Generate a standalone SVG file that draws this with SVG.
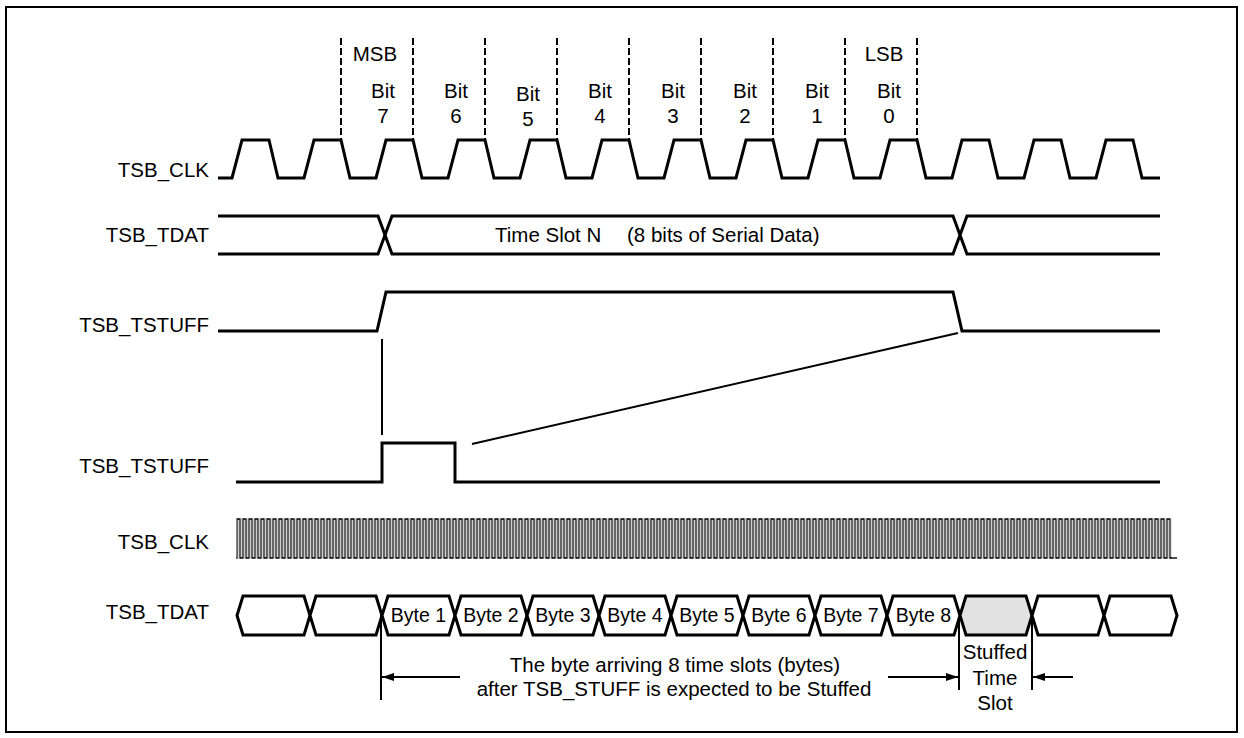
<svg xmlns="http://www.w3.org/2000/svg" width="1244" height="738" viewBox="0 0 1244 738">
<defs>
<style>
text{font-family:"Liberation Sans",Arial,sans-serif;font-size:20.5px;fill:#000}
.lbl{text-anchor:end}
.c{text-anchor:middle}
.bt{text-anchor:middle;font-size:19.5px}
.w{fill:none;stroke:#000;stroke-width:3;stroke-linejoin:miter}
.dash{stroke:#000;stroke-width:2;stroke-dasharray:7,3}
.thin{fill:none;stroke:#000;stroke-width:2}
.slot{fill:#fff;stroke:#000;stroke-width:3;stroke-linejoin:miter}
</style>
<marker id="ah" viewBox="0 0 12 8" refX="12" refY="4" markerWidth="12" markerHeight="8" markerUnits="userSpaceOnUse" orient="auto">
<path d="M0,0 L12,4 L0,8 Z" fill="#000"/>
</marker>
<pattern id="fastclk" patternUnits="userSpaceOnUse" x="235.5" y="518" width="6" height="42">
<path d="M0,40 H1.5 V1 H4.5 V40 H6" fill="none" stroke="#000" stroke-width="1.4"/>
</pattern>
</defs>
<rect x="0" y="0" width="1244" height="738" fill="#fff"/>
<rect id="border" x="6" y="7" width="1231" height="725" fill="none" stroke="#000" stroke-width="2"/>

<g id="labels">
<text class="lbl" x="209" y="177">TSB_CLK</text>
<text class="lbl" x="209" y="242">TSB_TDAT</text>
<text class="lbl" x="209" y="332">TSB_TSTUFF</text>
<text class="lbl" x="209" y="473">TSB_TSTUFF</text>
<text class="lbl" x="209" y="549">TSB_CLK</text>
<text class="lbl" x="209" y="619">TSB_TDAT</text>
</g>

<g id="bit-markers">
<line class="dash" x1="341" y1="38" x2="341" y2="140"/>
<line class="dash" x1="413" y1="38" x2="413" y2="140"/>
<line class="dash" x1="485" y1="38" x2="485" y2="140"/>
<line class="dash" x1="557" y1="38" x2="557" y2="140"/>
<line class="dash" x1="629" y1="38" x2="629" y2="140"/>
<line class="dash" x1="701" y1="38" x2="701" y2="140"/>
<line class="dash" x1="773" y1="38" x2="773" y2="140"/>
<line class="dash" x1="845" y1="38" x2="845" y2="140"/>
<line class="dash" x1="917" y1="38" x2="917" y2="140"/>
<text class="c" x="375" y="61">MSB</text>
<text class="c" x="884" y="61">LSB</text>
<text class="c" x="383" y="98">Bit</text><text class="c" x="383" y="123">7</text>
<text class="c" x="456" y="98">Bit</text><text class="c" x="456" y="123">6</text>
<text class="c" x="528" y="101">Bit</text><text class="c" x="528" y="126">5</text>
<text class="c" x="600" y="98">Bit</text><text class="c" x="600" y="123">4</text>
<text class="c" x="673" y="98">Bit</text><text class="c" x="673" y="123">3</text>
<text class="c" x="745" y="98">Bit</text><text class="c" x="745" y="123">2</text>
<text class="c" x="817" y="98">Bit</text><text class="c" x="817" y="123">1</text>
<text class="c" x="889" y="98">Bit</text><text class="c" x="889" y="123">0</text>
</g>

<g id="clk-top">
<path class="w" d="M218,178 H232 L242,140 H269 L278,178 H304 L314,140 H341 L350,178 H376 L386,140 H413 L422,178 H448 L458,140 H485 L494,178 H520 L530,140 H557 L566,178 H592 L602,140 H629 L638,178 H664 L674,140 H701 L710,178 H736 L746,140 H773 L782,178 H808 L818,140 H845 L854,178 H880 L890,140 H917 L926,178 H952 L962,140 H989 L998,178 H1024 L1034,140 H1061 L1070,178 H1096 L1106,140 H1133 L1142,178 H1160"/>
</g>

<g id="tdat-top">
<path class="w" d="M218,216 H378 L385,235 L378,254 H218"/>
<path class="w" d="M392,216 H953 L960,235 L953,254 H392 L385,235 Z"/>
<path class="w" d="M1160,216 H967 L960,235 L967,254 H1160"/>
<text x="495" y="242">Time Slot N</text>
<text x="627" y="242">(8 bits of Serial Data)</text>
</g>

<g id="tstuff-top">
<path class="w" d="M218,331 H377 L386,292 H953 L962,331 H1160"/>
</g>

<g id="tstuff-bottom">
<path class="w" d="M236,482 H382 V443 H455 V482 H1160"/>
</g>

<g id="clk-bottom">
<rect x="236.2" y="517" width="935.3" height="43" fill="url(#fastclk)"/>
<line x1="1170.5" y1="558" x2="1177" y2="558" stroke="#000" stroke-width="1.4"/>
</g>

<g id="tdat-bottom">
<polygon class="slot" points="237,615.5 243,596 304,596 310,615.5 304,635 243,635"/>
<polygon class="slot" points="310,615.5 316,596 376,596 382,615.5 376,635 316,635"/>
<polygon class="slot" points="382,615.5 388,596 449,596 455,615.5 449,635 388,635"/>
<polygon class="slot" points="455,615.5 461,596 521,596 527,615.5 521,635 461,635"/>
<polygon class="slot" points="527,615.5 533,596 593,596 599,615.5 593,635 533,635"/>
<polygon class="slot" points="599,615.5 605,596 665,596 671,615.5 665,635 605,635"/>
<polygon class="slot" points="671,615.5 677,596 737,596 743,615.5 737,635 677,635"/>
<polygon class="slot" points="743,615.5 749,596 809,596 815,615.5 809,635 749,635"/>
<polygon class="slot" points="815,615.5 821,596 881,596 887,615.5 881,635 821,635"/>
<polygon class="slot" points="887,615.5 893,596 954,596 960,615.5 954,635 893,635"/>
<polygon class="slot" points="960,615.5 966,596 1026,596 1032,615.5 1026,635 966,635" style="fill:#e2e2e2"/>
<polygon class="slot" points="1032,615.5 1038,596 1098,596 1104,615.5 1098,635 1038,635"/>
<polygon class="slot" points="1104,615.5 1110,596 1171,596 1177,615.5 1171,635 1110,635"/>
<text class="bt" x="418.5" y="622">Byte 1</text>
<text class="bt" x="491" y="622">Byte 2</text>
<text class="bt" x="563" y="622">Byte 3</text>
<text class="bt" x="635" y="622">Byte 4</text>
<text class="bt" x="707" y="622">Byte 5</text>
<text class="bt" x="779" y="622">Byte 6</text>
<text class="bt" x="851" y="622">Byte 7</text>
<text class="bt" x="923.5" y="622">Byte 8</text>
</g>

<g id="connectors">
<line class="thin" x1="382" y1="339" x2="382" y2="435"/>
<line class="thin" x1="472" y1="444" x2="958" y2="333"/>
<line class="thin" x1="381" y1="615" x2="381" y2="700"/>
<line class="thin" x1="959" y1="617" x2="959" y2="690"/>
<line class="thin" x1="1032" y1="617" x2="1032" y2="690"/>
<line class="thin" x1="460" y1="677" x2="382" y2="677" marker-end="url(#ah)"/>
<line class="thin" x1="888" y1="677" x2="958" y2="677" marker-end="url(#ah)"/>
<line class="thin" x1="1073" y1="677" x2="1033" y2="677" marker-end="url(#ah)"/>
</g>

<g id="notes">
<text class="c" x="675" y="672">The byte arriving 8 time slots (bytes)</text>
<text class="c" x="674" y="696">after TSB_STUFF is expected to be Stuffed</text>
<text class="c" x="995" y="659">Stuffed</text>
<text class="c" x="995" y="685">Time</text>
<text class="c" x="995" y="710">Slot</text>
</g>
</svg>
